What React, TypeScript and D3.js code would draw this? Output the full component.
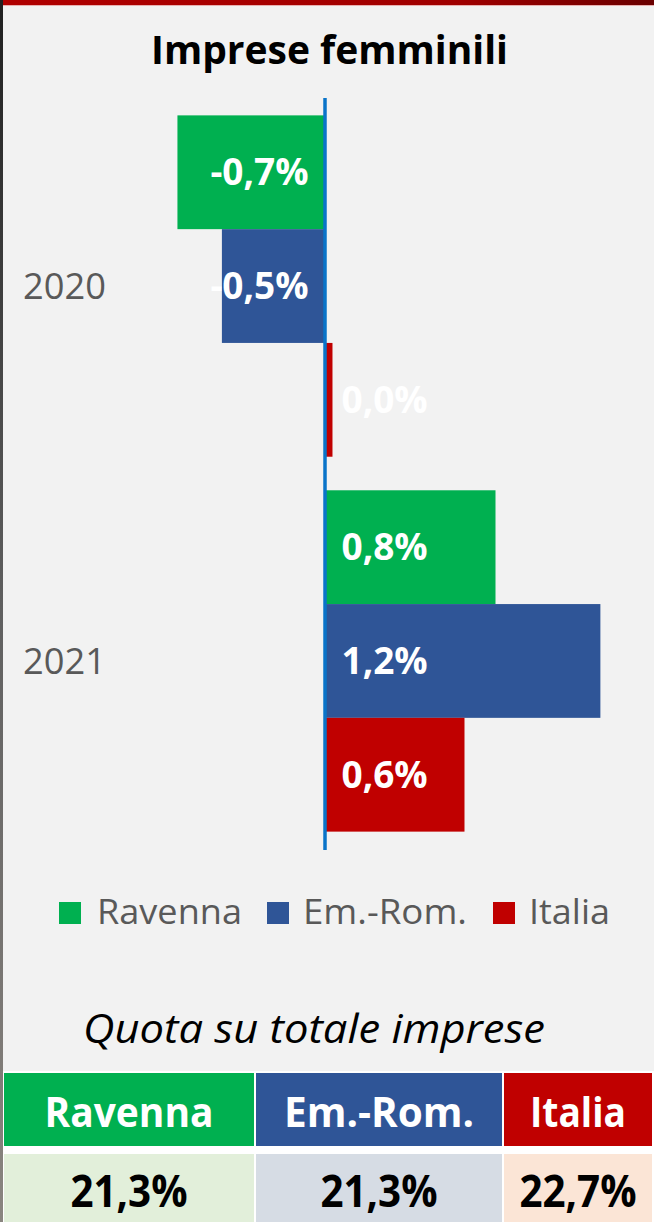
import React from 'react';
import * as d3 from 'd3';

const years = ['2020', '2021'];
const seriesNames = ['Ravenna', 'Em.-Rom.', 'Italia'];
const ravennaValues = [-0.645, 0.75];
const emRomValues = [-0.45, 1.21];
const italiaValues = [0.035, 0.614];
const ravennaLabels = ['-0,7%', '0,8%'];
const emRomLabels = ['-0,5%', '1,2%'];
const italiaLabels = ['0,0%', '0,6%'];
const shareValues = [21.3, 21.3, 22.7];

const colors = ['#00b050', '#2f5597', '#c00000'];
const lightColors = ['#e2efda', '#d6dce4', '#fbe5d6'];
const FONT = "'Open Sans', 'Noto Sans', sans-serif";

export default function App() {
  const W = 654, H = 1222;
  const seriesValues = [ravennaValues, emRomValues, italiaValues];
  const seriesLabels = [ravennaLabels, emRomLabels, italiaLabels];

  const x = d3.scaleLinear().domain([-1, 1.4]).range([96.5, 643.7]);
  const y = d3.scaleBand<string>().domain(years).range([98.5, 848.5]).paddingInner(0.0895).paddingOuter(0.045);
  const ys = d3.scaleBand<string>().domain(seriesNames).range([0, y.bandwidth()]);
  const x0 = x(0);

  const legendSq = [59, 267, 493];
  const legendTx = [97, 303, 529];
  const legendW = [145, 164, 81];

  const cols = [[4, 254], [256, 502], [504, 652]];
  const headW = [169, 190, 96];
  const fmt = (v: number) => v.toFixed(1).replace('.', ',') + '%';

  return (
    <svg width={W} height={H} style={{ position: 'absolute', left: 0, top: 0, display: 'block' }} fontFamily={FONT}>
      <defs>
        <linearGradient id="topbar" x1="0" x2="1" y1="0" y2="0">
          <stop offset="0" stopColor="#b00000" />
          <stop offset="0.7" stopColor="#a00000" />
          <stop offset="1" stopColor="#6a0000" />
        </linearGradient>
        <linearGradient id="leftbar" x1="0" x2="0" y1="0" y2="1">
          <stop offset="0" stopColor="#202020" />
          <stop offset="0.5" stopColor="#606060" />
          <stop offset="1" stopColor="#8a8580" />
        </linearGradient>
      </defs>
      <rect x={0} y={0} width={W} height={H} fill="#f2f2f2" />
      <rect x={0} y={0} width={W} height={5} fill="url(#topbar)" />
      <rect x={0} y={5} width={W} height={1} fill="#e8b0b0" />
      <rect x={0} y={0} width={3} height={H} fill="url(#leftbar)" />

      <text x={329.5} y={64} textAnchor="middle" fontSize={40} fontWeight="bold" fill="#000" textLength={357} lengthAdjust="spacingAndGlyphs">Imprese femminili</text>

      {years.map((yr, i) => (
        <g key={yr}>
          {seriesNames.map((s, j) => {
            const v = seriesValues[j][i];
            const by = (y(yr) as number) + (ys(s) as number);
            const bx = Math.min(x(v), x0);
            const bw = Math.abs(x(v) - x0);
            const cy = by + ys.bandwidth() / 2;
            return (
              <g key={s}>
                <rect x={bx} y={by} width={bw} height={ys.bandwidth()} fill={colors[j]} />
                <text x={v < 0 ? x0 - 16 : x0 + 17} y={cy + 13} textAnchor={v < 0 ? 'end' : 'start'} fontSize={37} fontWeight="bold" fill="#ffffff">{seriesLabels[j][i]}</text>
              </g>
            );
          })}
          <text x={23} y={(y(yr) as number) + y.bandwidth() / 2 + 13} fontSize={36} fill="#595959" textLength={83} lengthAdjust="spacingAndGlyphs">{yr}</text>
        </g>
      ))}
      <line x1={x0 + 0.5} x2={x0 + 0.5} y1={98} y2={850} stroke="#0a74c9" strokeWidth={3.5} />

      {seriesNames.map((s, j) => (
        <g key={s}>
          <rect x={legendSq[j]} y={902} width={22} height={22} fill={colors[j]} />
          <text x={legendTx[j]} y={924} fontSize={34} fill="#595959" textLength={legendW[j]} lengthAdjust="spacingAndGlyphs">{s}</text>
        </g>
      ))}

      <text x={314} y={1043} textAnchor="middle" fontSize={41} fontStyle="italic" fill="#000" textLength={462} lengthAdjust="spacingAndGlyphs">Quota su totale imprese</text>

      <rect x={3} y={1071} width={W - 3} height={H - 1071} fill="#ffffff" />
      {seriesNames.map((s, j) => {
        const [a, b] = cols[j];
        const cx = (a + b) / 2;
        return (
          <g key={s}>
            <rect x={a} y={1073} width={b - a} height={73} fill={colors[j]} />
            <rect x={a} y={1154} width={b - a} height={H - 1154} fill={lightColors[j]} />
            <text x={cx} y={1127} textAnchor="middle" fontSize={42} fontWeight="bold" fill="#ffffff" textLength={headW[j]} lengthAdjust="spacingAndGlyphs">{s}</text>
            <text x={cx} y={1207} textAnchor="middle" fontSize={45} fontWeight="bold" fill="#000" textLength={117} lengthAdjust="spacingAndGlyphs">{fmt(shareValues[j])}</text>
          </g>
        );
      })}
    </svg>
  );
}
